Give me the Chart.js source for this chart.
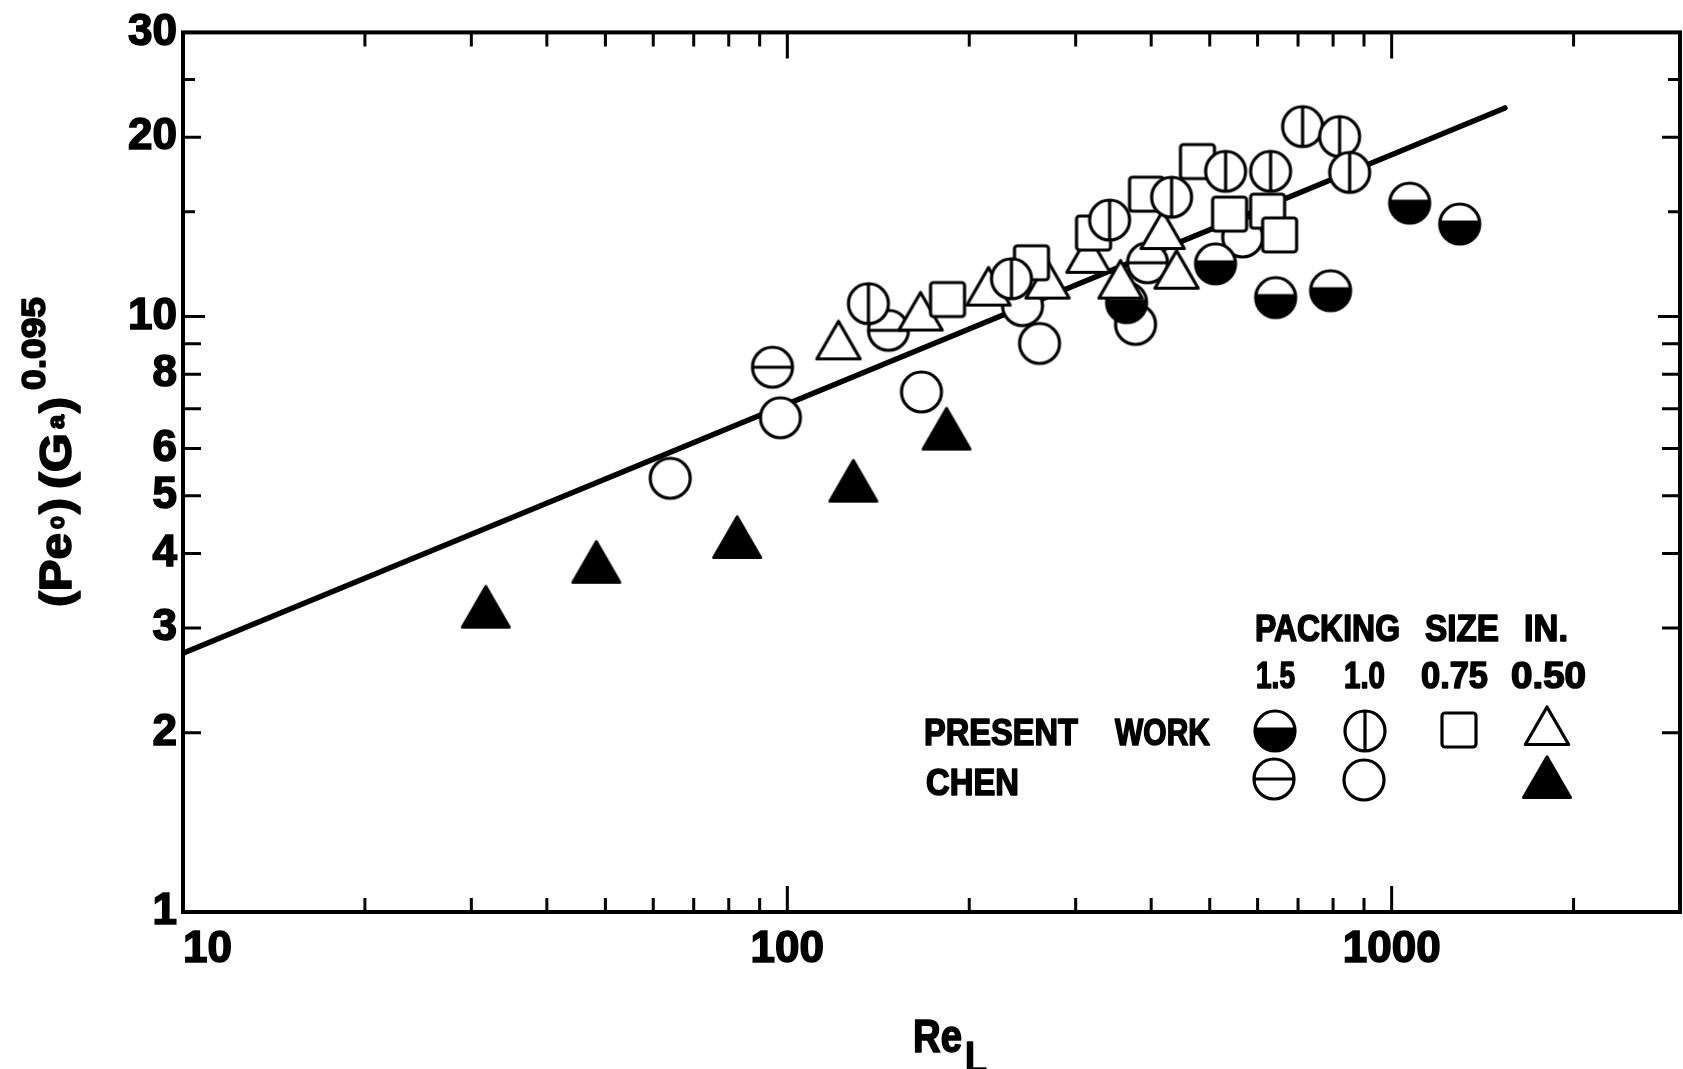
<!DOCTYPE html>
<html>
<head>
<meta charset="utf-8">
<script src="https://cdn.jsdelivr.net/npm/chart.js@4.4.1/dist/chart.umd.min.js"></script>
<style>
  html, body { margin: 0; padding: 0; background: #fff; }
  canvas { display: block; }
</style>
</head>
<body>
<canvas id="chart" width="1683" height="1069"></canvas>
<script>
// Chen, 0.50 in. packing (filled triangles)
const chenTriX = [31.7, 48.3, 82.6, 128.6, 183.4];
const chenTriY = [3.17, 3.77, 4.15, 5.16, 6.31];
// Chen, 1.0 in. packing (open circles)
const chenCircX = [64.0, 97.4, 166.7, 245.0, 261.4, 376.9, 566.8];
const chenCircY = [5.35, 6.76, 7.47, 10.43, 9.01, 9.70, 13.60];
// Chen, 1.5 in. packing (circle with horizontal bar)
const chenBarX = [94.5, 147.0, 394.5];
const chenBarY = [8.22, 9.48, 12.31];
// Present work, 1.5 in. (half filled circle)
const workHalfX = [364.2, 511.2, 642.7, 792.5, 1071, 1296];
const workHalfY = [10.55, 12.26, 10.76, 11.05, 15.50, 14.30];
// Present work, 1.0 in. (circle with vertical bar)
const workVertX = [136.2, 234.9, 341.4, 432.4, 531.1, 630.5, 712.3, 820.1, 852.1];
const workVertY = [10.51, 11.57, 14.52, 15.86, 17.53, 17.53, 20.84, 20.05, 17.46];
// Present work, 0.75 in. (squares)
const workSqX = [184.1, 253.5, 321.1, 393.0, 477.2, 539.3, 623.3, 652.5];
const workSqY = [10.68, 12.31, 13.81, 16.05, 18.21, 14.86, 15.03, 13.71];
// Present work, 0.50 in. (open triangles)
const workTriX = [121.5, 166.1, 215.2, 269.5, 315.0, 355.9, 417.8, 440.6];
const workTriY = [8.91, 9.96, 10.97, 11.27, 12.45, 11.27, 13.65, 11.71];
// correlation line
const fitX = [10, 1540];
const fitY = [2.72, 22.4];

const xLabelTicks = [10, 100, 1000, 3000];
const yLabelTicks = [1, 2, 3, 4, 5, 6, 8, 10, 20, 30];
const xMajorMarks = [100, 1000];
const xMinorMarks = [20, 30, 40, 50, 60, 70, 80, 90, 200, 300, 400, 500, 600, 700, 800, 900, 2000];
const yMidMarks = [2, 3, 4, 5, 6, 7, 8, 9, 20];
const yShortMarks = [15, 25];

const sizeLabels = ['1.5', '1.0', '0.75', '0.50'];
const rowLabels = ['PRESENT', 'WORK', 'CHEN'];

const FONT = "'Liberation Sans', Arial, sans-serif";

function makeSymbol(kind) {
    const c = document.createElement('canvas');
    const r = kind === 'triFill' ? 27 : (kind === 'tri' ? 25 : 20);
    const s = 2 * r + 8;
    c.width = s; c.height = s;
    const g = c.getContext('2d');
    const m = s / 2;
    g.lineWidth = 3.2;
    g.strokeStyle = '#000';
    g.fillStyle = '#fff';
    g.lineJoin = 'round';
    if (kind === 'square') {
        const h = 17;
        g.beginPath();
        g.roundRect(m - h, m - h, 2 * h, 2 * h, 3);
        g.fill(); g.stroke();
    } else if (kind === 'tri' || kind === 'triFill') {
        g.beginPath();
        g.moveTo(m, m - r);
        g.lineTo(m + r * 0.866, m + r / 2);
        g.lineTo(m - r * 0.866, m + r / 2);
        g.closePath();
        if (kind === 'triFill') g.fillStyle = '#000';
        g.fill(); g.stroke();
    } else {
        g.beginPath();
        g.arc(m, m, r, 0, 2 * Math.PI);
        g.fill();
        if (kind === 'half') {
            g.save();
            g.beginPath();
            g.rect(0, m - 2, s, s);
            g.clip();
            g.beginPath();
            g.arc(m, m, r, 0, 2 * Math.PI);
            g.fillStyle = '#000';
            g.fill();
            g.restore();
        }
        g.beginPath();
        g.arc(m, m, r, 0, 2 * Math.PI);
        if (kind === 'vline') { g.moveTo(m, m - r); g.lineTo(m, m + r); }
        if (kind === 'hline') { g.moveTo(m - r, m); g.lineTo(m + r, m); }
        if (kind === 'half') { g.moveTo(m - r, m - 2); g.lineTo(m + r, m - 2); }
        g.stroke();
    }
    return c;
}

const sym = {};
['circle', 'vline', 'hline', 'half', 'square', 'tri', 'triFill'].forEach(k => sym[k] = makeSymbol(k));

function pts(xs, ys) {
    return xs.map((x, i) => ({ x: x, y: ys[i] }));
}

function markSet(label, xs, ys, kind, order) {
    return {
        label: label,
        data: pts(xs, ys),
        pointStyle: sym[kind],
        pointRadius: 20,
        showLine: false,
        order: order
    };
}

// heavy text, optionally squeezed to a given width
function word(ctx, str, x, y, size, width) {
    ctx.font = 'bold ' + size + 'px ' + FONT;
    const w = ctx.measureText(str).width;
    const k = width ? width / w : 1;
    ctx.save();
    ctx.translate(x, y);
    ctx.scale(k, 1);
    ctx.lineWidth = 1.6;
    ctx.lineJoin = 'round';
    ctx.fillText(str, 0, 0);
    ctx.strokeText(str, 0, 0);
    ctx.restore();
}

const decorations = {
    id: 'decorations',
    afterDraw(chart) {
        const { ctx, chartArea: a, scales: { x, y } } = chart;
        ctx.save();
        ctx.strokeStyle = '#000';
        ctx.fillStyle = '#000';
        ctx.lineWidth = 3;

        // inward tick marks on all four sides
        const xMark = (v, len) => {
            const p = x.getPixelForValue(v);
            ctx.beginPath();
            ctx.moveTo(p, a.bottom); ctx.lineTo(p, a.bottom - len);
            ctx.moveTo(p, a.top); ctx.lineTo(p, a.top + len);
            ctx.stroke();
        };
        const yMark = (v, len) => {
            const p = y.getPixelForValue(v);
            ctx.beginPath();
            ctx.moveTo(a.left, p); ctx.lineTo(a.left + len, p);
            ctx.moveTo(a.right, p); ctx.lineTo(a.right - len, p);
            ctx.stroke();
        };
        xMinorMarks.forEach(v => xMark(v, 14));
        xMajorMarks.forEach(v => xMark(v, 26));
        yMidMarks.forEach(v => yMark(v, 18));
        yShortMarks.forEach(v => yMark(v, 12));
        yMark(10, 22);

        ctx.lineWidth = 4;
        ctx.strokeRect(a.left, a.top, a.right - a.left, a.bottom - a.top);

        // x axis title: Re with subscript L
        ctx.textBaseline = 'alphabetic';
        ctx.textAlign = 'left';
        word(ctx, 'Re', 913, 1052, 46, 49);
        word(ctx, 'L', 965, 1073, 45, 22);

        // y axis title, rotated
        ctx.save();
        ctx.translate(72, 607);
        ctx.rotate(-Math.PI / 2);
        word(ctx, '(Pe', 0, -1, 44, 74);
        word(ctx, 'o', 78, -8, 24, 13);
        word(ctx, ')', 93, -1, 44, 16);
        word(ctx, '(G', 118, -1, 44, 56);
        word(ctx, 'a', 178, -8, 24, 14);
        word(ctx, ')', 194, -1, 44, 16);
        word(ctx, '0.095', 217, -27, 34, 93);
        ctx.restore();

        // key
        word(ctx, 'PACKING', 1255, 641, 37, 145);
        word(ctx, 'SIZE', 1425, 641, 37, 74);
        word(ctx, 'IN.', 1524, 641, 37, 44);
        const colX = [1256, 1344, 1421, 1511];
        const colW = [39, 41, 67, 75];
        sizeLabels.forEach((s, i) => word(ctx, s, colX[i], 688, 36, colW[i]));
        word(ctx, rowLabels[0], 924, 745, 37, 154);
        word(ctx, rowLabels[1], 1115, 745, 37, 95);
        word(ctx, rowLabels[2], 926, 795, 37, 93);

        const put = (c, cx, cy) => ctx.drawImage(c, cx - c.width / 2, cy - c.height / 2);
        put(sym.half, 1275, 731);
        put(sym.vline, 1365, 731);
        put(sym.square, 1459, 730);
        put(sym.tri, 1547, 732);
        put(sym.hline, 1274, 779);
        put(sym.circle, 1364, 780);
        put(sym.triFill, 1547, 784);

        ctx.restore();
    }
};

const tickFont = { family: FONT, size: 44, weight: 'bold' };

new Chart(document.getElementById('chart').getContext('2d'), {
    type: 'scatter',
    data: {
        datasets: [
            {
                label: 'correlation',
                data: pts(fitX, fitY),
                showLine: true,
                borderColor: '#000',
                borderWidth: 5.5,
                borderCapStyle: 'round',
                pointRadius: 0,
                order: 9
            },
            markSet('Present work 1.0', workVertX, workVertY, 'vline', 1),
            markSet('Present work 0.75', workSqX, workSqY, 'square', 2),
            markSet('Present work 0.50', workTriX, workTriY, 'tri', 3),
            markSet('Present work 1.5', workHalfX, workHalfY, 'half', 4),
            markSet('Chen 1.5', chenBarX, chenBarY, 'hline', 5),
            markSet('Chen 1.0', chenCircX, chenCircY, 'circle', 6),
            markSet('Chen 0.50', chenTriX, chenTriY, 'triFill', 7)
        ]
    },
    options: {
        responsive: false,
        animation: false,
        devicePixelRatio: 1,
        events: [],
        layout: { autoPadding: false, padding: { top: 27, right: 3, left: 0, bottom: 0 } },
        plugins: {
            legend: { display: false },
            tooltip: { enabled: false }
        },
        scales: {
            x: {
                type: 'logarithmic',
                min: 10,
                max: 3000,
                grid: { display: false, drawTicks: false },
                border: { display: false },
                afterBuildTicks: s => { s.ticks = xLabelTicks.map(v => ({ value: v })); },
                afterFit: s => {
                    s.height = 157;
                    s.paddingLeft = 0;
                    s.paddingRight = 0;
                },
                ticks: {
                    autoSkip: false,
                    maxRotation: 0,
                    align: 'inner',
                    padding: 11,
                    color: '#000',
                    textStrokeColor: '#000',
                    textStrokeWidth: 1.6,
                    font: tickFont,
                    callback: v => (v === 3000 ? '' : String(v))
                }
            },
            y: {
                type: 'logarithmic',
                min: 1,
                max: 30,
                grid: { display: false, drawTicks: false },
                border: { display: false },
                afterBuildTicks: s => { s.ticks = yLabelTicks.map(v => ({ value: v })); },
                afterFit: s => { s.width = 183; },
                ticks: {
                    autoSkip: false,
                    padding: 6,
                    color: '#000',
                    textStrokeColor: '#000',
                    textStrokeWidth: 1.6,
                    font: tickFont,
                    callback: v => String(v)
                }
            }
        }
    },
    plugins: [decorations]
});
</script>
</body>
</html>
